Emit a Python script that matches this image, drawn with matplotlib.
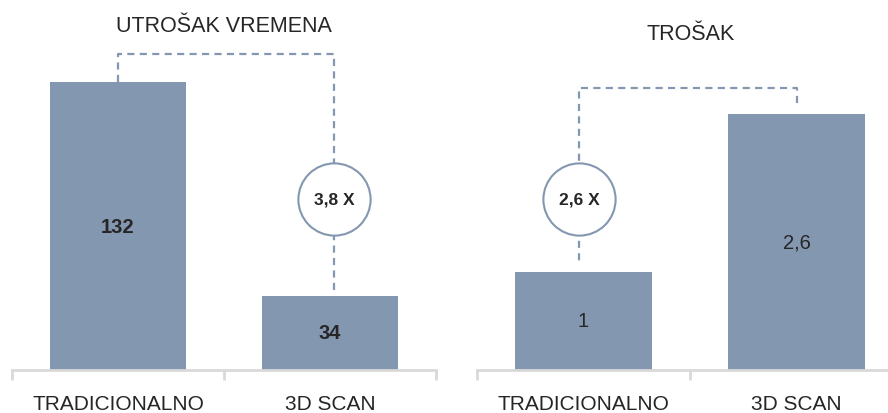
import matplotlib.pyplot as plt
from matplotlib.transforms import blended_transform_factory

# data
categories = ['TRADICIONALNO', '3D SCAN']
time_values = [132, 34]
time_labels = ['132', '34']
cost_values = [1, 2.6]
cost_labels = ['1', '2,6']
time_ratio = '3,8 X'
cost_ratio = '2,6 X'

BAR = '#8497B0'
AXIS = '#D9D9D9'
TXT = '#262626'

plt.rcParams['font.family'] = ['Liberation Sans', 'DejaVu Sans']

W, H = 888, 414
fig = plt.figure(figsize=(W / 100, H / 100), dpi=100)


def px_axes(x0, x1, y_bottom, y_top):
    return fig.add_axes([x0 / W, 1 - y_bottom / H, (x1 - x0) / W, (y_bottom - y_top) / H])


def panel(ax, values, labels, bold, ymax, bracket_y, start_y, from_idx, to_idx, end_y,
          ratio, circle_frac, shift):
    x = range(len(values))
    ax.bar(x, values, width=0.645, color=BAR, zorder=2)
    ax.set_xlim(-0.5, 1.5)
    ax.set_ylim(0, ymax)
    for i, (v, lab) in enumerate(zip(values, labels)):
        ax.text(i, v / 2, lab, ha='center', va='center', fontsize=14.5,
                fontweight='bold' if bold else 'normal', color=TXT, zorder=3)
    for s in ['top', 'right', 'left']:
        ax.spines[s].set_visible(False)
    ax.spines['bottom'].set_color(AXIS)
    ax.spines['bottom'].set_linewidth(2)
    ax.set_yticks([])
    ax.set_xticks(list(x))
    ax.set_xticklabels(categories, fontsize=15, color=TXT)
    ax.tick_params(axis='x', length=0, pad=17)
    ax.set_xticks([-0.5, 0.5, 1.5], minor=True)
    ax.tick_params(axis='x', which='minor', length=7, width=2, color=AXIS, direction='out')

    # bracket connector
    cx = to_idx + shift
    ax.plot([from_idx, from_idx, cx, cx], [start_y, bracket_y, bracket_y, end_y],
            color=BAR, lw=1.6, dashes=(3.2, 2.4), zorder=1, solid_capstyle='butt')
    tr = blended_transform_factory(ax.transData, ax.transAxes)
    ax.plot([cx], [circle_frac], transform=tr, marker='o', markersize=52,
            markerfacecolor='white', markeredgecolor=BAR, markeredgewidth=1.5,
            zorder=4, clip_on=False)
    ax.text(cx, circle_frac, ratio, transform=tr, ha='center', va='center',
            fontsize=12.5, fontweight='bold', color=TXT, zorder=5)


ax1 = px_axes(12, 436, 371, 40)
panel(ax1, time_values, time_labels, True, 331 / 2.18, 145, time_values[0], 0, 1,
      time_values[1] + 1, time_ratio, (371 - 200) / 331, 0.02)

ax2 = px_axes(477, 903, 371, 40)
panel(ax2, cost_values, cost_labels, False, 331 / 98.5, 2.86, 2.71, 1, 0,
      1.08, cost_ratio, (371 - 200) / 331, -0.02)

fig.text(224 / W, 1 - 27 / H, 'UTROŠAK VREMENA', ha='center', va='center',
         fontsize=15.5, color=TXT)
fig.text(691 / W, 1 - 34 / H, 'TROŠAK', ha='center', va='center',
         fontsize=15.5, color=TXT)

fig.savefig('out.png', dpi=100)
